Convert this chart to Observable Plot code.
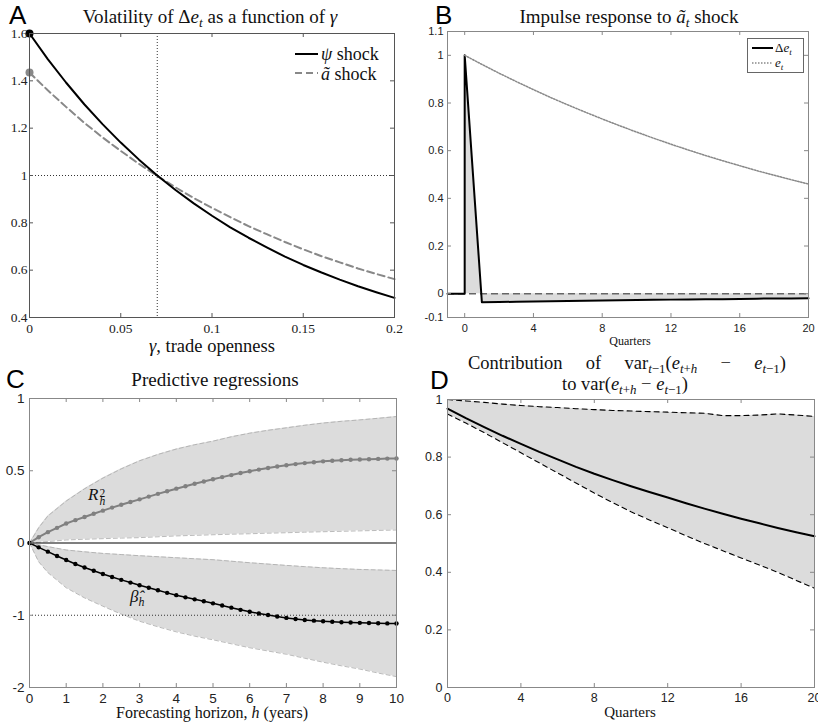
<!DOCTYPE html>
<html><head><meta charset="utf-8">
<script src="https://cdn.jsdelivr.net/npm/d3@7"></script>
<script src="https://cdn.jsdelivr.net/npm/@observablehq/plot@0.6"></script>
<style>
body{margin:0;background:#fff}
#root{position:relative;width:818px;height:725px;overflow:hidden;background:#fff}
.p{position:absolute}
.t{position:absolute;font-family:"Liberation Serif",serif;color:#111;white-space:nowrap;line-height:1}
.c{text-align:center;width:400px}
.L{position:absolute;font-family:"Liberation Sans",Arial,sans-serif;font-size:26px;line-height:20px;color:#000}
sub{font-size:70%;vertical-align:-0.3em;line-height:0}
.stk{display:inline-block;vertical-align:-0.45em;line-height:0.72;font-size:68%;text-align:left;margin-left:1px}
svg.lg{position:absolute;overflow:visible}
</style></head>
<body>
<div id="root">
  <div id="pA" class="p" style="left:0;top:0"></div>
  <div id="pB" class="p" style="left:408px;top:0"></div>
  <div id="pC" class="p" style="left:0;top:362px"></div>
  <div id="pD" class="p" style="left:408px;top:362px"></div>

  <div class="L" style="left:9px;top:5px">A</div>
  <div class="L" style="left:435px;top:5px">B</div>
  <div class="L" style="left:6px;top:369px">C</div>
  <div class="L" style="left:430px;top:370px">D</div>

  <div class="t c" style="left:10px;top:7px;font-size:19px">Volatility of Δ<i>e</i><sub><i>t</i></sub> as a function of <i>γ</i></div>
  <div class="t c" style="left:429px;top:7px;font-size:19px">Impulse response to <i>ã</i><sub><i>t</i></sub> shock</div>
  <div class="t c" style="left:15px;top:370px;font-size:19px">Predictive regressions</div>
  <div class="t" style="left:468px;top:354px;width:318px;font-size:18.5px;text-align:justify;text-align-last:justify">Contribution of var<sub><i>t</i>−1</sub>(<i>e</i><sub><i>t</i>+<i>h</i></sub> − <i>e</i><sub><i>t</i>−1</sub>)</div>
  <div class="t c" style="left:425px;top:375px;font-size:18.5px">to var(<i>e</i><sub><i>t</i>+<i>h</i></sub> − <i>e</i><sub><i>t</i>−1</sub>)</div>

  <div class="t c" style="left:12px;top:337px;font-size:18.5px"><i>γ</i>, trade openness</div>
  <div class="t c" style="left:430px;top:335px;font-size:12px">Quarters</div>
  <div class="t c" style="left:12px;top:705px;font-size:16px">Forecasting horizon, <i>h</i> (years)</div>
  <div class="t c" style="left:430px;top:705px;font-size:15px">Quarters</div>

  <!-- legends -->
  <svg class="lg" style="left:0;top:0" width="818" height="100">
    <line x1="295" x2="318" y1="54" y2="54" stroke="#000" stroke-width="2"/>
    <line x1="295" x2="318" y1="73" y2="73" stroke="#888" stroke-width="2" stroke-dasharray="7,4"/>
    <rect x="747.5" y="38.5" width="56" height="34" fill="#fff" stroke="#666" stroke-width="1"/>
    <line x1="752" x2="773" y1="48" y2="48" stroke="#000" stroke-width="2"/>
    <line x1="752" x2="773" y1="63" y2="63" stroke="#888" stroke-width="1.5" stroke-dasharray="1.5,1.5"/>
  </svg>
  <div class="t" style="left:321px;top:45px;font-size:18px"><i>ψ</i> shock</div>
  <div class="t" style="left:321px;top:65px;font-size:18px"><i>ã</i> shock</div>
  <div class="t" style="left:775px;top:41px;font-size:13px">Δ<i>e</i><sub><i>t</i></sub></div>
  <div class="t" style="left:775px;top:56px;font-size:13px"><i>e</i><sub><i>t</i></sub></div>

  <!-- labels C -->
  <div class="t" style="left:88px;top:486px;font-size:17px"><i>R</i><span class="stk">2<br><i>h</i></span></div>
  <div class="t" style="left:130px;top:588px;font-size:17px"><i>β̂</i><sub><i>h</i></sub></div>
</div>
<script>
// ---------- Panel A data ----------
const gammaA = [0,0.01,0.02,0.03,0.04,0.05,0.06,0.07,0.08,0.09,0.10,0.11,0.12,0.13,0.14,0.15,0.16,0.17,0.18,0.19,0.20];
const volPsi = [1.600,1.492,1.393,1.301,1.217,1.139,1.067,1.000,0.939,0.882,0.830,0.781,0.737,0.696,0.657,0.622,0.590,0.560,0.532,0.507,0.483];
const volA   = [1.435,1.360,1.290,1.223,1.161,1.104,1.049,0.998,0.950,0.905,0.863,0.824,0.786,0.752,0.719,0.688,0.659,0.633,0.607,0.584,0.562];
const refGamma = [0.07];
const refVol = [1];
const ticksAx = [0,0.05,0.1,0.15,0.2];
const ticksAy = [0.4,0.6,0.8,1,1.2,1.4,1.6];

// ---------- Panel B data ----------
const qDelta = [-1,0,0,1,2,3,4,5,6,7,8,9,10,11,12,13,14,15,16,17,18,19,20];
const deltaE = [0,0,1,-0.036,-0.035,-0.034,-0.033,-0.032,-0.031,-0.030,-0.029,-0.028,-0.027,-0.026,-0.025,-0.024,-0.023,-0.023,-0.022,-0.021,-0.020,-0.020,-0.019];
const qLevel = [0,1,2,3,4,5,6,7,8,9,10,11,12,13,14,15,16,17,18,19,20];
const levelE = [1.000,0.962,0.925,0.890,0.856,0.823,0.792,0.762,0.733,0.705,0.678,0.652,0.627,0.603,0.580,0.558,0.537,0.516,0.497,0.478,0.460];
const ticksBx = [0,4,8,12,16,20];
const ticksBy = [-0.1,0,0.2,0.4,0.6,0.8,1,1.1];

// ---------- Panel C data ----------
const hQ = [0,0.25,0.5,0.75,1,1.25,1.5,1.75,2,2.25,2.5,2.75,3,3.25,3.5,3.75,4,4.25,4.5,4.75,5,5.25,5.5,5.75,6,6.25,6.5,6.75,7,7.25,7.5,7.75,8,8.25,8.5,8.75,9,9.25,9.5,9.75,10];
const r2 = [0,0.04,0.075,0.105,0.135,0.158,0.18,0.202,0.224,0.245,0.265,0.284,0.302,0.321,0.34,0.358,0.376,0.393,0.41,0.426,0.441,0.456,0.47,0.484,0.497,0.508,0.519,0.529,0.538,0.546,0.553,0.559,0.565,0.569,0.573,0.576,0.578,0.58,0.582,0.584,0.585];
const betaH = [0,-0.06,-0.12,-0.18,-0.235,-0.29,-0.34,-0.385,-0.43,-0.47,-0.51,-0.548,-0.585,-0.62,-0.655,-0.69,-0.722,-0.752,-0.78,-0.807,-0.835,-0.865,-0.895,-0.925,-0.952,-0.975,-0.997,-1.018,-1.037,-1.052,-1.065,-1.075,-1.083,-1.09,-1.096,-1.101,-1.105,-1.108,-1.111,-1.113,-1.115];
const bandH = [0,0.25,0.5,1,1.5,2,2.5,3,3.5,4,4.5,5,5.5,6,6.5,7,7.5,8,8.5,9,9.5,10];
const r2Hi = [0,0.105,0.187,0.29,0.375,0.449,0.513,0.569,0.613,0.65,0.68,0.705,0.735,0.76,0.78,0.797,0.815,0.83,0.842,0.852,0.863,0.875];
const r2Lo = [0,0.005,0.01,0.021,0.026,0.03,0.034,0.037,0.043,0.049,0.053,0.057,0.061,0.064,0.068,0.071,0.075,0.078,0.081,0.084,0.087,0.09];
const betaHi = [0,-0.025,-0.05,-0.097,-0.122,-0.144,-0.16,-0.176,-0.19,-0.204,-0.218,-0.231,-0.252,-0.273,-0.292,-0.31,-0.327,-0.343,-0.355,-0.366,-0.373,-0.38];
const betaLo = [0,-0.26,-0.41,-0.62,-0.76,-0.875,-0.985,-1.083,-1.16,-1.23,-1.29,-1.34,-1.395,-1.45,-1.495,-1.54,-1.595,-1.65,-1.70,-1.745,-1.80,-1.85];
const ticksCx = [0,1,2,3,4,5,6,7,8,9,10];
const ticksCy = [-2,-1,0,1,2];
const ticksCyLabels = ["-2","-1","0","0.5","1"];
const refBeta = [-1];

// ---------- Panel D data ----------
const qD = [0,1,2,3,4,5,6,7,8,9,10,11,12,13,14,15,16,17,18,19,20];
const contrib = [0.968,0.935,0.904,0.874,0.846,0.818,0.792,0.766,0.742,0.720,0.699,0.679,0.660,0.640,0.621,0.603,0.586,0.570,0.554,0.539,0.525];
const contribHi = [1.0,0.995,0.99,0.984,0.979,0.975,0.972,0.968,0.965,0.962,0.96,0.958,0.956,0.954,0.952,0.944,0.944,0.946,0.95,0.946,0.941];
const contribLo = [0.95,0.918,0.885,0.85,0.815,0.78,0.745,0.71,0.675,0.642,0.61,0.582,0.555,0.527,0.5,0.475,0.45,0.425,0.4,0.372,0.345];
const ticksDx = [0,4,8,12,16,20];
const ticksDy = [0,0.2,0.4,0.6,0.8,1];

// ---------- helpers ----------
function inTicks(xv, yv, fw, fh, color, len = 4) {
  return [
    Plot.ruleX(xv, {x: d => d, insetTop: fh - len, stroke: color}),
    Plot.ruleX(xv, {x: d => d, insetBottom: fh - len, stroke: color}),
    Plot.ruleY(yv, {y: d => d, insetRight: fw - len, stroke: color}),
    Plot.ruleY(yv, {y: d => d, insetLeft: fw - len, stroke: color})
  ];
}
const fmt = d => String(d);

// ---------- Panel A ----------
{
  const rows = gammaA.map((g, i) => ({g, psi: volPsi[i], a: volA[i]}));
  const W = 408, H = 362, ml = 29, mr = 14, mt = 33, mb = 45;
  const fw = W - ml - mr, fh = H - mt - mb;
  const chart = Plot.plot({
    width: W, height: H, marginLeft: ml, marginRight: mr, marginTop: mt, marginBottom: mb,
    x: {domain: [0, 0.2]}, y: {domain: [0.4, 1.6]},
    style: {fontFamily: "'Liberation Serif', serif", fontSize: "13.5px", color: "#222", background: "transparent", overflow: "visible"},
    marks: [
      Plot.ruleX(refGamma, {x: d => d, stroke: "#333", strokeDasharray: "1,2"}),
      Plot.ruleY(refVol, {y: d => d, stroke: "#333", strokeDasharray: "1,2"}),
      Plot.line(rows, {x: "g", y: "a", stroke: "#888", strokeWidth: 2, strokeDasharray: "7,4"}),
      Plot.line(rows, {x: "g", y: "psi", stroke: "#000", strokeWidth: 2}),
      Plot.dot(rows.slice(0, 1), {x: "g", y: "a", r: 4, fill: "#888", stroke: "none"}),
      Plot.dot(rows.slice(0, 1), {x: "g", y: "psi", r: 4, fill: "#000", stroke: "none"}),
      Plot.frame({stroke: "#555"}),
      ...inTicks(ticksAx, ticksAy, fw, fh, "#555"),
      Plot.axisX({ticks: ticksAx, tickFormat: fmt, tickSize: 0, tickPadding: 6, label: null}),
      Plot.axisY({ticks: ticksAy, tickFormat: fmt, tickSize: 0, tickPadding: 2, label: null})
    ]
  });
  document.getElementById("pA").append(chart);
}

// ---------- Panel B ----------
{
  const drows = qDelta.map((q, i) => ({q, v: deltaE[i]}));
  const lrows = qLevel.map((q, i) => ({q, v: levelE[i]}));
  const W = 410, H = 362, ml = 39, mr = 10, mt = 31, mb = 45;
  const fw = W - ml - mr, fh = H - mt - mb;
  const chart = Plot.plot({
    width: W, height: H, marginLeft: ml, marginRight: mr, marginTop: mt, marginBottom: mb,
    x: {domain: [-1, 20]}, y: {domain: [-0.1, 1.1]},
    style: {fontFamily: "'Liberation Sans', Arial, sans-serif", fontSize: "11px", color: "#222", background: "transparent", overflow: "visible"},
    marks: [
      Plot.areaY(drows, {x: "q", y: "v", fill: "#dcdcdc"}),
      Plot.ruleY([0], {y: d => d, stroke: "#666", strokeWidth: 1.5, strokeDasharray: "7,4"}),
      Plot.line(drows, {x: "q", y: "v", stroke: "#000", strokeWidth: 2}),
      Plot.line(lrows, {x: "q", y: "v", stroke: "#888", strokeWidth: 1.5, strokeDasharray: "1.5,1.5"}),
      Plot.frame({stroke: "#888"}),
      ...inTicks(ticksBx, ticksBy.slice(1, -1), fw, fh, "#888"),
      Plot.axisX({ticks: ticksBx, tickFormat: fmt, tickSize: 0, tickPadding: 7, label: null}),
      Plot.axisY({ticks: ticksBy, tickFormat: fmt, tickSize: 0, tickPadding: 4, label: null})
    ]
  });
  document.getElementById("pB").append(chart);
}

// ---------- Panel C ----------
{
  const pts = hQ.map((h, i) => ({h, r2: r2[i], b: betaH[i]}));
  const band = bandH.map((h, i) => ({h, rh: r2Hi[i], rl: r2Lo[i], bh: betaHi[i], bl: betaLo[i]}));
  const W = 408, H = 363, ml = 29, mr = 12, mt = 36, mb = 38;
  const fw = W - ml - mr, fh = H - mt - mb;
  // upper half of the axis shows R² on a doubled scale (labels 0.5 and 1)
  const r2y = v => 2 * v;
  const chart = Plot.plot({
    width: W, height: H, marginLeft: ml, marginRight: mr, marginTop: mt, marginBottom: mb,
    x: {domain: [0, 10]}, y: {domain: [-2, 2]},
    style: {fontFamily: "'Liberation Sans', Arial, sans-serif", fontSize: "13.5px", color: "#222", background: "transparent", overflow: "visible"},
    marks: [
      Plot.areaY(band, {x: "h", y1: d => r2y(d.rl), y2: d => r2y(d.rh), fill: "#dcdcdc"}),
      Plot.areaY(band, {x: "h", y1: "bl", y2: "bh", fill: "#dcdcdc"}),
      Plot.line(band, {x: "h", y: d => r2y(d.rh), stroke: "#aaa", strokeWidth: 0.8, strokeDasharray: "4,3"}),
      Plot.line(band, {x: "h", y: d => r2y(d.rl), stroke: "#aaa", strokeWidth: 0.8, strokeDasharray: "4,3"}),
      Plot.line(band, {x: "h", y: "bh", stroke: "#aaa", strokeWidth: 0.8, strokeDasharray: "4,3"}),
      Plot.line(band, {x: "h", y: "bl", stroke: "#aaa", strokeWidth: 0.8, strokeDasharray: "4,3"}),
      Plot.ruleY([0], {y: d => d, stroke: "#000", strokeWidth: 1.2}),
      Plot.ruleY(refBeta, {y: d => d, stroke: "#333", strokeDasharray: "1,2"}),
      Plot.line(pts, {x: "h", y: d => r2y(d.r2), stroke: "#808080", strokeWidth: 2}),
      Plot.dot(pts, {x: "h", y: d => r2y(d.r2), r: 2.2, fill: "#808080", stroke: "none"}),
      Plot.line(pts, {x: "h", y: "b", stroke: "#000", strokeWidth: 1.5}),
      Plot.dot(pts, {x: "h", y: "b", r: 2.2, fill: "#000", stroke: "none"}),
      Plot.frame({stroke: "#888"}),
      ...inTicks(ticksCx, ticksCy, fw, fh, "#888"),
      Plot.axisX({ticks: ticksCx, tickFormat: fmt, tickSize: 0, tickPadding: 6, label: null}),
      Plot.axisY({ticks: ticksCy, tickFormat: d => ticksCyLabels[ticksCy.indexOf(d)], tickSize: 0, tickPadding: 5, label: null})
    ]
  });
  document.getElementById("pC").append(chart);
}

// ---------- Panel D ----------
{
  const rows = qD.map((q, i) => ({q, c: contrib[i], hi: contribHi[i], lo: contribLo[i]}));
  const W = 410, H = 363, ml = 39, mr = 4, mt = 37, mb = 38;
  const fw = W - ml - mr, fh = H - mt - mb;
  const chart = Plot.plot({
    width: W, height: H, marginLeft: ml, marginRight: mr, marginTop: mt, marginBottom: mb,
    x: {domain: [0, 20]}, y: {domain: [0, 1]},
    style: {fontFamily: "'Liberation Sans', Arial, sans-serif", fontSize: "12.5px", color: "#222", background: "transparent", overflow: "visible"},
    marks: [
      Plot.areaY(rows, {x: "q", y1: "lo", y2: "hi", fill: "#dcdcdc"}),
      Plot.line(rows, {x: "q", y: "hi", stroke: "#000", strokeWidth: 1.1, strokeDasharray: "5,4"}),
      Plot.line(rows, {x: "q", y: "lo", stroke: "#000", strokeWidth: 1.1, strokeDasharray: "5,4"}),
      Plot.line(rows, {x: "q", y: "c", stroke: "#000", strokeWidth: 2}),
      Plot.frame({stroke: "#888"}),
      ...inTicks(ticksDx, ticksDy, fw, fh, "#888"),
      Plot.axisX({ticks: ticksDx, tickFormat: fmt, tickSize: 0, tickPadding: 6, label: null}),
      Plot.axisY({ticks: ticksDy, tickFormat: fmt, tickSize: 0, tickPadding: 5, label: null})
    ]
  });
  document.getElementById("pD").append(chart);
}
</script>
</body></html>
